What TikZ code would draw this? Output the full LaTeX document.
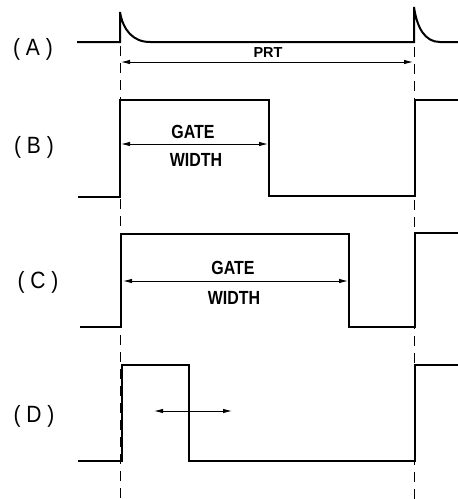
\documentclass[tikz,border=0pt]{standalone}
\usepackage{fontspec}
\setmainfont{Liberation Sans}
\usetikzlibrary{arrows.meta}
\newcommand{\cond}[1]{\scalebox{0.84}[1]{#1}}
\newcommand{\tall}[1]{\scalebox{1}[1.12]{#1}}
\begin{document}
\begin{tikzpicture}[x=1pt,y=-1pt,
  wave/.style={line width=2pt, line join=miter},
  guide/.style={line width=1pt, dash pattern=on 10pt off 7pt},
  dim/.style={line width=0.9pt, {Latex[length=9pt,width=4.5pt]}-{Latex[length=9pt,width=4.5pt]}},
  lab/.style={font=\fontsize{21}{23}\selectfont, inner sep=0pt},
  gw/.style={font=\bfseries\fontsize{19}{21}\selectfont, inner sep=0pt},
  prt/.style={font=\bfseries\fontsize{14.5}{16}\selectfont, inner sep=0pt}]
\useasboundingbox (0,0) rectangle (458,499);

% guide lines
\coordinate (gl1) at (120,46);
\coordinate (gl2) at (120,499);
\coordinate (gr1) at (414,47);
\coordinate (gr2) at (414,499);
\draw[guide] (gl1) -- (gl2);
\draw[guide] (gr1) -- (gr2);

% (A)
\node[lab] (la) at (33,49) {\tall{( A )}};
\draw[wave] (77,42) -- (120,42) -- (120,12)
  .. controls (123,30) and (133,42) .. (150,42) -- (414,42) -- (414,7)
  .. controls (417,28) and (425,42) .. (440,42) -- (458,42);
\coordinate (pa) at (121,62);
\coordinate (pb) at (413,62);
\draw[dim] (pa) -- (pb);
\node[prt] (prtl) at (268,53) {PRT};

% (B)
\node[lab] (lb) at (34,147) {\tall{( B )}};
\draw[wave] (78,197) -- (120,197) -- (120,100) -- (269,100) -- (269,196)
  -- (415,196) -- (415,100) -- (458,100);
\coordinate (ba) at (121,144);
\coordinate (bb) at (268,144);
\draw[dim] (ba) -- (bb);
\node[gw] (bg) at (193,132) {\cond{GATE}};
\node[gw] (bw) at (196,160) {\cond{WIDTH}};

% (C)
\node[lab] (lc) at (38,282) {\tall{( C )}};
\draw[wave] (80,327) -- (121,327) -- (121,234) -- (349,234) -- (349,327)
  -- (415,327) -- (415,233) -- (458,233);
\coordinate (ca) at (123,281);
\coordinate (cb) at (348,281);
\draw[dim] (ca) -- (cb);
\node[gw] (cg) at (233,268) {\cond{GATE}};
\node[gw] (cw) at (234,298) {\cond{WIDTH}};

% (D)
\node[lab] (ld) at (34,416) {\tall{( D )}};
\draw[wave] (78,461) -- (122,461) -- (122,365) -- (189,365) -- (189,461)
  -- (415,461) -- (415,365) -- (458,365);
\coordinate (da) at (154,411);
\coordinate (db) at (232,411);
\draw[dim] (da) -- (db);
\end{tikzpicture}
\end{document}
